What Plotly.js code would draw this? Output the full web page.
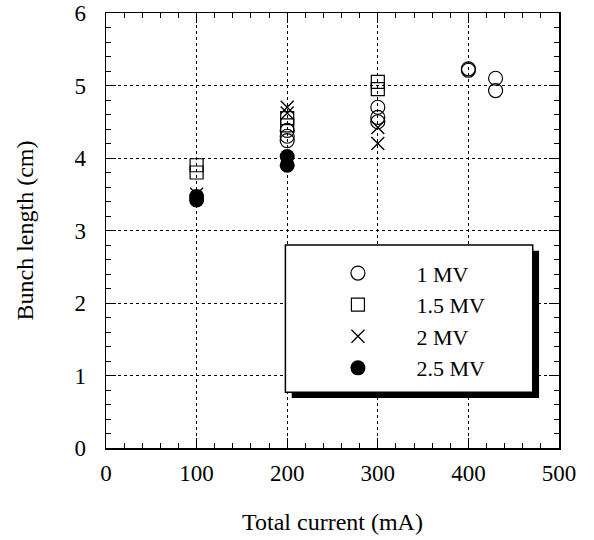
<!DOCTYPE html>
<html><head><meta charset="utf-8">
<script src="https://cdn.plot.ly/plotly-3.0.1.min.js"></script>
<style>body{margin:0;background:#fff}#chart{width:594px;height:540px}</style>
</head><body><div id="chart"></div>
<script>
const seriesNames = ['1 MV', '1.5 MV', '2 MV', '2.5 MV'];
const mv1_x = [200, 200, 200, 300, 300, 300, 400, 400, 430, 430];
const mv1_y = [4.38, 4.3, 4.24, 4.5, 4.56, 4.7, 5.23, 5.21, 5.1, 4.93];
const mv15_x = [100, 100, 200, 200, 300, 300];
const mv15_y = [3.9, 3.8, 4.55, 4.45, 5.05, 4.95];
const mv2_x = [100, 200, 200, 300, 300];
const mv2_y = [3.5, 4.7, 4.62, 4.42, 4.2];
const mv25_x = [100, 100, 200, 200];
const mv25_y = [3.47, 3.42, 4.02, 3.9];
const xTicks = [0, 100, 200, 300, 400, 500];
const yTicks = [0, 1, 2, 3, 4, 5, 6];

const font = {family: 'Liberation Serif, Times New Roman, serif', color: '#000'};
const pad = '\u00a0\u00a0\u00a0\u00a0\u00a0\u00a0\u00a0';
const traces = [
  {x: mv1_x, y: mv1_y, name: seriesNames[0], type: 'scatter', mode: 'markers',
   marker: {symbol: 'circle-open', size: 14, color: '#000', line: {width: 1.2}}},
  {x: mv15_x, y: mv15_y, name: seriesNames[1], type: 'scatter', mode: 'markers',
   marker: {symbol: 'square-open', size: 13, color: '#000', line: {width: 1.2}}},
  {x: mv2_x, y: mv2_y, name: seriesNames[2], type: 'scatter', mode: 'markers',
   marker: {symbol: 'x-thin-open', size: 13, color: '#000', line: {width: 1.3}}},
  {x: mv25_x, y: mv25_y, name: seriesNames[3], type: 'scatter', mode: 'markers',
   marker: {symbol: 'circle', size: 15, color: '#000'}}
];
traces.forEach(t => { t.name = pad + t.name; });

const axisCommon = {
  showline: true, linecolor: '#000', linewidth: 1.5, mirror: 'allticks',
  ticks: 'inside', ticklen: 10, tickwidth: 1, tickcolor: '#000',
  showgrid: true, gridcolor: '#000', griddash: 'dot', gridwidth: 1,
  zeroline: false, tickfont: Object.assign({size: 23}, font),
  minor: {ticks: 'inside', ticklen: 5, tickwidth: 1, tickcolor: '#000', showgrid: false}
};

const layout = {
  width: 594, height: 540,
  margin: {l: 106, r: 35, t: 13, b: 92},
  paper_bgcolor: '#fff', plot_bgcolor: '#fff',
  showlegend: true,
  xaxis: Object.assign({}, axisCommon, {
    range: [0, 500], tickvals: xTicks, ticktext: xTicks.map(String),
    minor: Object.assign({}, axisCommon.minor, {dtick: 20, tick0: 0}),
    ticklabelstandoff: 4,
    title: {text: 'Total current (mA)', font: Object.assign({size: 24}, font), standoff: 28}
  }),
  yaxis: Object.assign({}, axisCommon, {
    range: [0, 6], tickvals: yTicks, ticktext: yTicks.map(String),
    minor: Object.assign({}, axisCommon.minor, {dtick: 0.2, tick0: 0}),
    ticklabelstandoff: 14,
    title: {text: 'Bunch length (cm)', font: Object.assign({size: 24}, font), standoff: 34}
  }),
  shapes: [
    {type: 'rect', xref: 'x', yref: 'y', x0: 205, x1: 478, y0: 0.69, y1: 2.72,
     fillcolor: '#000', line: {width: 0}, layer: 'above'},
    {type: 'rect', xref: 'x', yref: 'y', x0: 198, x1: 471, y0: 0.77, y1: 2.80,
     fillcolor: '#fff', line: {color: '#000', width: 1.5}, layer: 'above'}
  ],
  legend: {
    x: 0.512, y: 0.450, xanchor: 'left', yanchor: 'top',
    bgcolor: 'rgba(0,0,0,0)', borderwidth: 0,
    font: Object.assign({size: 22}, font), tracegroupgap: 0, itemwidth: 30
  }
};

Plotly.newPlot('chart', traces, layout, {staticPlot: true});
</script>
</body></html>
